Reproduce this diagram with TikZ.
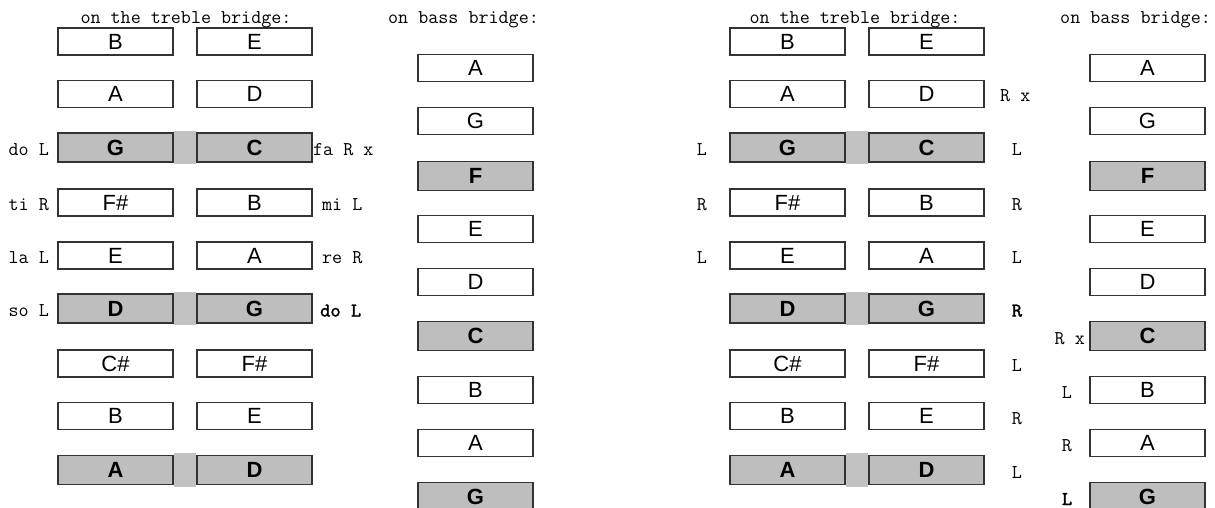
\documentclass[tikz,border=0pt]{standalone}
\usepackage{fontspec}
\usetikzlibrary{backgrounds}
\newfontfamily\sansf{Liberation Sans}
\newfontfamily\ttbold[FakeBold=1.6]{lmmono10-regular.otf}
\definecolor{boxgray}{HTML}{BEBEBE}
\definecolor{stripgray}{HTML}{C2C2C2}
\definecolor{edgecol}{HTML}{333333}
\tikzset{
  wbox/.style={draw=edgecol, line width=1.3pt, fill=white, minimum width=115pt, minimum height=27pt, inner sep=0pt, font=\sansf\fontsize{22}{22}\selectfont},
  gbox/.style={wbox, fill=boxgray, minimum height=29pt, font=\sansf\bfseries\fontsize{22}{22}\selectfont},
  lbl/.style={inner sep=0pt, font=\ttfamily\fontsize{19.5}{19.5}\selectfont},
  blbl/.style={lbl, font=\ttbold\fontsize{19.5}{19.5}\selectfont},
  strip/.style={fill=stripgray}
}
\begin{document}
\begin{tikzpicture}[x=1pt,y=-1pt]
\useasboundingbox (0,0) rectangle (1215,508);
% treble panels
\foreach \n/\y/\l/\r/\s in {1/41.5/B/E/wbox,2/94/A/D/wbox,3/147.5/G/C/gbox,4/202.5/F\#/B/wbox,5/255.5/E/A/wbox,6/308.5/D/G/gbox,7/363.5/C\#/F\#/wbox,8/416/B/E/wbox,9/470/A/D/gbox}{
  \node[\s] (tl\n) at (115.5,\y) {\l};
  \node[\s] (tr\n) at (254.5,\y) {\r};
  \node[\s] (TL\n) at (787.5,\y) {\l};
  \node[\s] (TR\n) at (926.5,\y) {\r};
}
% bass panels
\foreach \n/\y/\l/\s in {1/68/A/wbox,2/121/G/wbox,3/176/F/gbox,4/229/E/wbox,5/282/D/wbox,6/336/C/gbox,7/390/B/wbox,8/443/A/wbox,9/497/G/gbox}{
  \node[\s] (b\n) at (475.5,\y) {\l};
  \node[\s] (B\n) at (1147.5,\y) {\l};
}
% strips joining paired gray keys
\begin{scope}[on background layer]
\foreach \n in {3,6,9}{
  \fill[strip] ([yshift=1.5pt]tl\n.north east) rectangle ([yshift=-1.5pt]tr\n.south west);
  \fill[strip] ([yshift=1.5pt]TL\n.north east) rectangle ([yshift=-1.5pt]TR\n.south west);
}
\end{scope}
% titles
\node[lbl, anchor=base] (t1) at (186,24) {on the treble bridge:};
\node[lbl, anchor=base west] (t2) at (388,24) {on bass bridge:};
\node[lbl, anchor=base] (t3) at (855,24) {on the treble bridge:};
\node[lbl, anchor=base west] (t4) at (1060,24) {on bass bridge:};
% left panel labels
\node[lbl, anchor=base east] (a3) at (49,155.5) {do L};
\node[lbl, anchor=base east] (a4) at (49,210.5) {ti R};
\node[lbl, anchor=base east] (a5) at (49,263.5) {la L};
\node[lbl, anchor=base east] (a6) at (49,316.5) {so L};
\node[lbl, anchor=base west] (c3) at (313,155.5) {fa R x};
\node[lbl, anchor=base west] (c4) at (322,210.5) {mi L};
\node[lbl, anchor=base west] (c5) at (322,263.5) {re R};
\node[blbl, anchor=base west] (c6) at (320,316.5) {do L};
% right panel labels
\node[lbl, anchor=base] (d3) at (702,155.5) {L};
\node[lbl, anchor=base] (d4) at (702,210.5) {R};
\node[lbl, anchor=base] (d5) at (702,263.5) {L};
\node[lbl, anchor=base west] (e2) at (1000,102) {R x};
\node[lbl, anchor=base] (e3) at (1017,155.5) {L};
\node[lbl, anchor=base] (e4) at (1017,210.5) {R};
\node[lbl, anchor=base] (e5) at (1017,263.5) {L};
\node[blbl, anchor=base] (e6) at (1017,316.5) {R};
\node[lbl, anchor=base] (e7) at (1017,371.5) {L};
\node[lbl, anchor=base] (e8) at (1017,424) {R};
\node[lbl, anchor=base] (e9) at (1017,478) {L};
% bass labels
\node[lbl, anchor=base east] (f6) at (1085,344) {R x};
\node[lbl, anchor=base] (f7) at (1067,398) {L};
\node[lbl, anchor=base] (f8) at (1067,451) {R};
\node[blbl, anchor=base] (f9) at (1067,505) {L};
\end{tikzpicture}
\end{document}
